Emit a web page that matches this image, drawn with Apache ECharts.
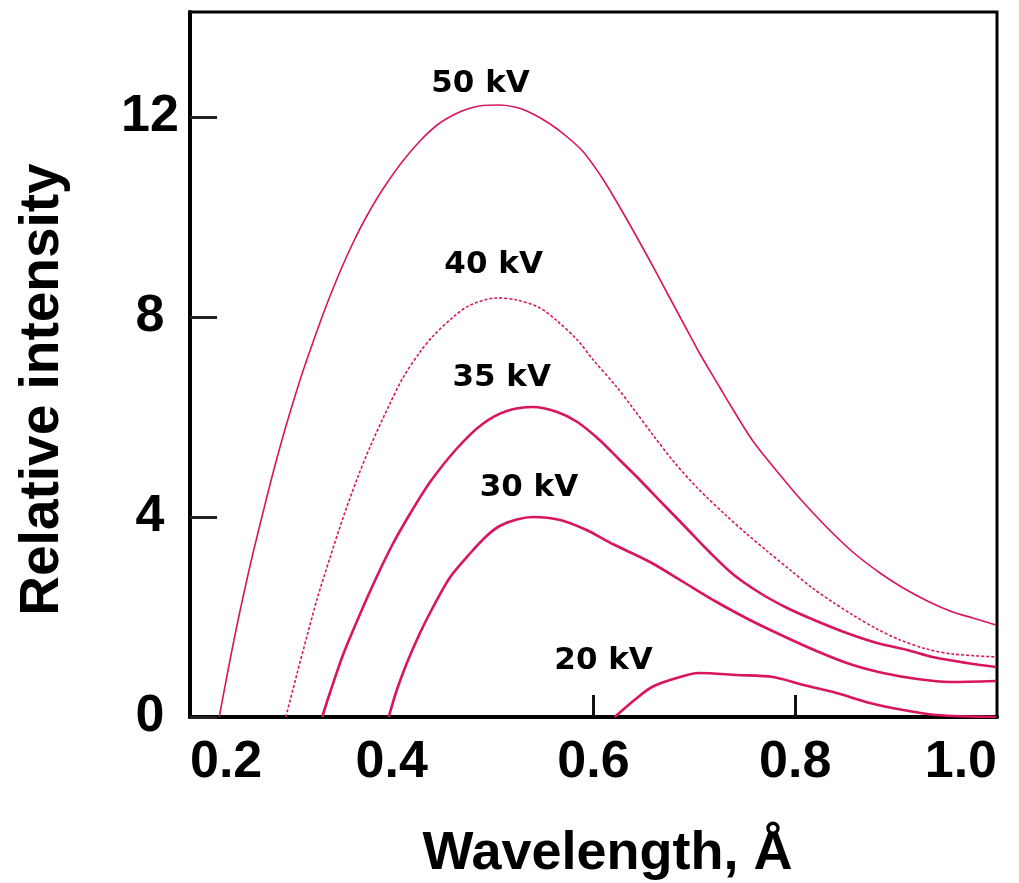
<!DOCTYPE html>
<html>
<head>
<meta charset="utf-8">
<title>Relative intensity vs wavelength</title>
<script src="https://cdn.jsdelivr.net/npm/echarts@6/dist/echarts.min.js"></script>
<style>
html, body { margin: 0; padding: 0; background: #ffffff; }
#main { width: 1019px; height: 883px; }
</style>
</head>
<body>
<div id="main"></div>
<script>
// wavelength (Å) and relative intensity
var x50 = [0.229, 0.237, 0.245, 0.253, 0.262, 0.272, 0.282, 0.292, 0.302, 0.312, 0.322, 0.332, 0.342, 0.352, 0.362, 0.372, 0.385, 0.398, 0.411, 0.428, 0.445, 0.461, 0.475, 0.490, 0.507, 0.524, 0.540, 0.557, 0.574, 0.590, 0.606, 0.619, 0.639, 0.656, 0.673, 0.689, 0.705, 0.725, 0.735, 0.758, 0.785, 0.805, 0.831, 0.857, 0.884, 0.907, 0.933, 0.956, 0.976, 0.999];
var y50 = [0, 0.86, 1.68, 2.44, 3.24, 4.06, 4.86, 5.60, 6.28, 6.92, 7.50, 8.06, 8.58, 9.06, 9.50, 9.90, 10.36, 10.76, 11.12, 11.52, 11.84, 12.04, 12.16, 12.23, 12.24, 12.19, 12.06, 11.86, 11.60, 11.30, 10.86, 10.44, 9.74, 9.12, 8.48, 7.88, 7.28, 6.60, 6.26, 5.52, 4.84, 4.36, 3.80, 3.30, 2.88, 2.58, 2.30, 2.10, 1.98, 1.84];

var x40 = [0.295, 0.306, 0.316, 0.326, 0.339, 0.352, 0.366, 0.378, 0.398, 0.411, 0.428, 0.441, 0.461, 0.478, 0.504, 0.524, 0.547, 0.564, 0.584, 0.599, 0.623, 0.639, 0.659, 0.679, 0.703, 0.732, 0.752, 0.772, 0.795, 0.817, 0.837, 0.857, 0.881, 0.904, 0.930, 0.956, 0.999];
var y40 = [0, 0.86, 1.62, 2.36, 3.20, 4.00, 4.78, 5.38, 6.26, 6.78, 7.30, 7.62, 8.00, 8.24, 8.38, 8.34, 8.18, 7.92, 7.54, 7.16, 6.60, 6.18, 5.64, 5.12, 4.58, 4.02, 3.66, 3.32, 2.94, 2.58, 2.30, 2.04, 1.76, 1.54, 1.36, 1.26, 1.20];

var x35 = [0.331, 0.339, 0.352, 0.369, 0.385, 0.401, 0.418, 0.438, 0.465, 0.490, 0.514, 0.540, 0.564, 0.584, 0.606, 0.626, 0.646, 0.666, 0.693, 0.715, 0.738, 0.765, 0.792, 0.821, 0.851, 0.881, 0.911, 0.936, 0.970, 0.999];
var y35 = [0, 0.50, 1.26, 2.08, 2.80, 3.46, 4.06, 4.70, 5.38, 5.86, 6.12, 6.20, 6.10, 5.90, 5.54, 5.14, 4.74, 4.32, 3.76, 3.30, 2.86, 2.48, 2.18, 1.92, 1.68, 1.48, 1.34, 1.20, 1.08, 1.00];

var x30 = [0.397, 0.405, 0.415, 0.428, 0.441, 0.458, 0.478, 0.494, 0.507, 0.524, 0.540, 0.567, 0.593, 0.619, 0.656, 0.689, 0.722, 0.755, 0.788, 0.821, 0.854, 0.887, 0.921, 0.953, 0.999];
var y30 = [0, 0.54, 1.08, 1.68, 2.20, 2.80, 3.28, 3.62, 3.82, 3.95, 4.00, 3.94, 3.74, 3.46, 3.10, 2.70, 2.30, 1.94, 1.62, 1.32, 1.06, 0.88, 0.76, 0.70, 0.72];

var x20 = [0.621, 0.643, 0.658, 0.676, 0.705, 0.742, 0.778, 0.808, 0.841, 0.874, 0.907, 0.940, 0.999];
var y20 = [0, 0.38, 0.60, 0.74, 0.88, 0.84, 0.80, 0.64, 0.48, 0.28, 0.14, 0.04, 0];

// curve names and where they are written on the chart
var kvNames = ['50 kV', '40 kV', '35 kV', '30 kV', '20 kV'];
var kvLabelX = [0.488, 0.501, 0.509, 0.536, 0.610];
var kvLabelY = [12.66, 9.04, 6.78, 4.58, 1.12];

var xTicks = [0.6, 0.8];

function pairs(xs, ys) {
	var out = [];
	for (var i = 0; i < xs.length; i++) {
		out.push([xs[i], ys[i]]);
	}
	return out;
}

var chartDom = document.getElementById('main');
var myChart = echarts.init(chartDom, null, { renderer : 'canvas' });

var lineColor = '#d8155e';
var curves = [
	{ data : pairs(x50, y50), width : 1.6, type : 'solid' },
	{ data : pairs(x40, y40), width : 1.6, type : [3, 2] },
	{ data : pairs(x35, y35), width : 2.6, type : 'solid' },
	{ data : pairs(x30, y30), width : 2.6, type : 'solid' },
	{ data : pairs(x20, y20), width : 2.6, type : 'solid' }
];

var series = [];
for (var i = 0; i < curves.length; i++) {
	series.push({
		name : kvNames[i],
		type : 'line',
		data : curves[i].data,
		smooth : 0.3,
		showSymbol : false,
		silent : true,
		lineStyle : {
			color : lineColor,
			width : curves[i].width,
			type : curves[i].type
		}
	});
}

// the kV captions, placed in data units
var labelData = [];
for (var j = 0; j < kvNames.length; j++) {
	labelData.push({ value : [kvLabelX[j], kvLabelY[j]], name : kvNames[j] });
}
series.push({
	type : 'scatter',
	data : labelData,
	symbolSize : 0,
	silent : true,
	itemStyle : { color : '#000', opacity : 1 },
	label : {
		show : true,
		position : 'inside',
		formatter : '{b}',
		color : '#000',
		opacity : 1,
		textBorderWidth : 0,
		fontFamily : 'DejaVu Sans',
		fontWeight : 'bold',
		fontSize : 31
	}
});

var option = {
	backgroundColor : '#ffffff',
	animation : false,
	grid : {
		left : 190,
		right : 22,
		top : 12,
		bottom : 166,
		outerBoundsMode : 'none',
		show : true,
		borderColor : '#000',
		borderWidth : 3
	},
	xAxis : {
		type : 'value',
		min : 0.2,
		max : 1.0,
		interval : 0.2,
		name : 'Wavelength, Å',
		nameLocation : 'middle',
		nameGap : 110,
		nameTextStyle : {
			color : '#000',
			fontFamily : 'Liberation Sans',
			fontWeight : 'bold',
			fontSize : 54,
			padding : [0, 0, 0, 28]
		},
		axisLine : { onZero : false, lineStyle : { color : '#000', width : 4 } },
		axisTick : {
			show : true,
			inside : true,
			length : 22,
			customValues : xTicks,
			lineStyle : { color : '#111', width : 3 }
		},
		axisLabel : {
			margin : 20,
			color : '#000',
			fontFamily : 'Liberation Sans',
			fontWeight : 'bold',
			fontSize : 52,
			alignMinLabel : 'left',
			alignMaxLabel : 'right',
			formatter : function(v) {
				return v.toFixed(1);
			}
		},
		splitLine : { show : false }
	},
	yAxis : {
		type : 'value',
		min : 0,
		max : 14.1,
		interval : 4,
		name : 'Relative intensity',
		nameLocation : 'middle',
		nameGap : 120,
		nameRotate : 90,
		nameTextStyle : {
			color : '#000',
			fontFamily : 'Liberation Sans',
			fontWeight : 'bold',
			fontSize : 55,
			padding : [0, 50, 0, 0]
		},
		axisLine : { show : true, lineStyle : { color : '#000', width : 4 } },
		axisTick : {
			show : true,
			inside : true,
			length : 27,
			lineStyle : { color : '#222', width : 3 }
		},
		axisLabel : {
			margin : 40,
			align : 'center',
			showMaxLabel : false,
			color : '#000',
			fontFamily : 'Liberation Sans',
			fontWeight : 'bold',
			fontSize : 52
		},
		splitLine : { show : false }
	},
	series : series
};

option && myChart.setOption(option);
</script>
</body>
</html>
